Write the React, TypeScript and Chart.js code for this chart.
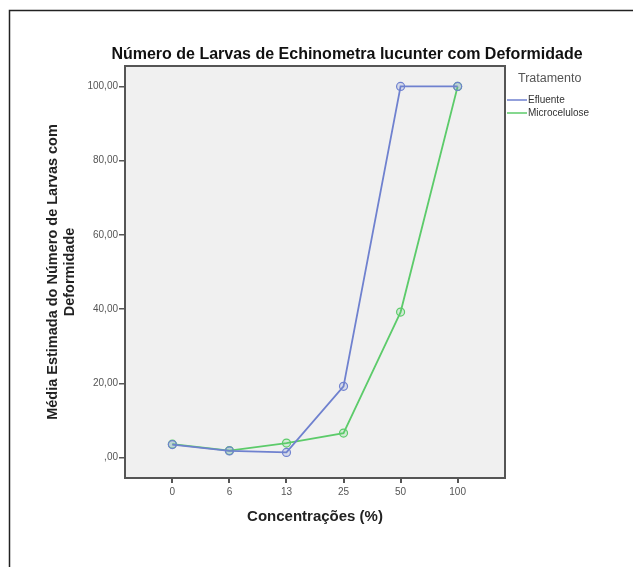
import React, { useEffect, useRef } from "react";
import { Chart, registerables } from "chart.js";

Chart.register(...registerables);

const categories = ["0", "6", "13", "25", "50", "100"];
const efluente = [3.5, 1.8, 1.4, 19.2, 100, 100];
const microcelulose = [3.6, 1.9, 3.9, 6.6, 39.2, 100];
const yTicks = [0, 20, 40, 60, 80, 100];

const chartTitle = "Número de Larvas de Echinometra lucunter com Deformidade";
const xTitle = "Concentrações (%)";
const yTitle = ["Média Estimada do Número de Larvas com", "Deformidade"];
const legendTitle = "Tratamento";
const seriesNames = ["Efluente", "Microcelulose"];
const seriesColors = ["#6f81cf", "#5ccb6a"];

const W = 633;
const H = 567;
const FONT = "'Liberation Sans', Arial, sans-serif";

function fmt(v: number): string {
  const s = v.toFixed(2).replace(".", ",");
  return s.startsWith("0,") ? s.slice(1) : s;
}

const decorPlugin = {
  id: "decor",
  beforeDraw(chart: any) {
    const { ctx, chartArea } = chart;
    ctx.save();
    ctx.fillStyle = "#ffffff";
    ctx.fillRect(0, 0, W, H);
    ctx.fillStyle = "#f0f0f0";
    ctx.fillRect(chartArea.left, chartArea.top, chartArea.right - chartArea.left, chartArea.bottom - chartArea.top);
    ctx.restore();
  },
  afterDraw(chart: any) {
    const { ctx, chartArea } = chart;
    ctx.save();
    // outer frame
    ctx.strokeStyle = "#222222";
    ctx.lineWidth = 1.5;
    ctx.beginPath();
    ctx.moveTo(9.5, H + 2);
    ctx.lineTo(9.5, 10.5);
    ctx.lineTo(W + 2, 10.5);
    ctx.stroke();
    // plot frame
    ctx.strokeStyle = "#555555";
    ctx.lineWidth = 2;
    ctx.strokeRect(chartArea.left, chartArea.top, chartArea.right - chartArea.left, chartArea.bottom - chartArea.top);
    // title
    ctx.fillStyle = "#111111";
    ctx.font = `bold 16px ${FONT}`;
    ctx.textAlign = "center";
    ctx.textBaseline = "middle";
    ctx.fillText(chartTitle, 347, 55);
    // x title
    ctx.font = `bold 15px ${FONT}`;
    ctx.fillStyle = "#222222";
    ctx.fillText(xTitle, (chartArea.left + chartArea.right) / 2, 517);
    // y title
    ctx.save();
    ctx.translate(53, (chartArea.top + chartArea.bottom) / 2);
    ctx.rotate(-Math.PI / 2);
    ctx.font = `bold 14.5px ${FONT}`;
    ctx.fillText(yTitle[0], 0, 0);
    ctx.fillText(yTitle[1], 0, 17);
    ctx.restore();
    // legend
    ctx.textAlign = "left";
    ctx.font = `12.5px ${FONT}`;
    ctx.fillStyle = "#555555";
    ctx.fillText(legendTitle, 518, 79);
    ctx.font = `10px ${FONT}`;
    const ys = [100, 113];
    for (let i = 0; i < seriesNames.length; i++) {
      ctx.strokeStyle = seriesColors[i];
      ctx.lineWidth = 1.5;
      ctx.beginPath();
      ctx.moveTo(507, ys[i]);
      ctx.lineTo(527, ys[i]);
      ctx.stroke();
      ctx.fillStyle = "#333333";
      ctx.fillText(seriesNames[i], 528, ys[i]);
    }
    ctx.restore();
  },
};

export default function App() {
  const ref = useRef<HTMLCanvasElement | null>(null);
  useEffect(() => {
    if (!ref.current) return;
    const mk = (name: string, vals: number[], color: string) => ({
      label: name,
      data: vals.map((v, i) => ({ x: i, y: v })),
      borderColor: color,
      backgroundColor: color + "40",
      borderWidth: 1.8,
      pointRadius: 4,
      pointBorderWidth: 1.2,
      pointBorderColor: color,
      pointBackgroundColor: color + "33",
      tension: 0,
    });
    const chart = new Chart(ref.current, {
      type: "line",
      data: {
        datasets: [
          mk(seriesNames[0], efluente, seriesColors[0]),
          mk(seriesNames[1], microcelulose, seriesColors[1]),
        ],
      },
      plugins: [decorPlugin],
      options: {
        responsive: false,
        animation: false,
        layout: { padding: { left: 0, top: 66, right: W - 505, bottom: 0 } },
        plugins: { legend: { display: false }, title: { display: false }, tooltip: { enabled: false } },
        scales: {
          x: {
            type: "linear",
            min: -0.83,
            max: 5.83,
            afterBuildTicks: (s: any) => {
              s.ticks = categories.map((_, i) => ({ value: i }));
            },
            afterFit: (s: any) => {
              s.height = H - 478;
            },
            ticks: {
              callback: (v: any) => categories[Math.round(Number(v))] ?? "",
              font: { family: FONT, size: 10 },
              color: "#555555",
              padding: 3,
              maxRotation: 0,
            },
            grid: { drawOnChartArea: false, drawTicks: true, tickLength: 5, color: "#555555", lineWidth: 2 },
            border: { display: false },
          },
          y: {
            type: "linear",
            min: -5.5,
            max: 105.5,
            afterBuildTicks: (s: any) => {
              s.ticks = yTicks.map((v) => ({ value: v }));
            },
            afterFit: (s: any) => {
              s.width = 125;
            },
            ticks: {
              callback: (v: any) => fmt(Number(v)),
              font: { family: FONT, size: 10 },
              color: "#555555",
              padding: 1,
            },
            grid: { drawOnChartArea: false, drawTicks: true, tickLength: 6, color: "#555555", lineWidth: 1.5 },
            border: { display: false },
          },
        },
      } as any,
    });
    return () => chart.destroy();
  }, []);
  return (
    <div style={{ position: "absolute", left: 0, top: 0, width: W, height: H, background: "#fff" }}>
      <canvas ref={ref} width={W} height={H} style={{ display: "block" }} />
    </div>
  );
}
